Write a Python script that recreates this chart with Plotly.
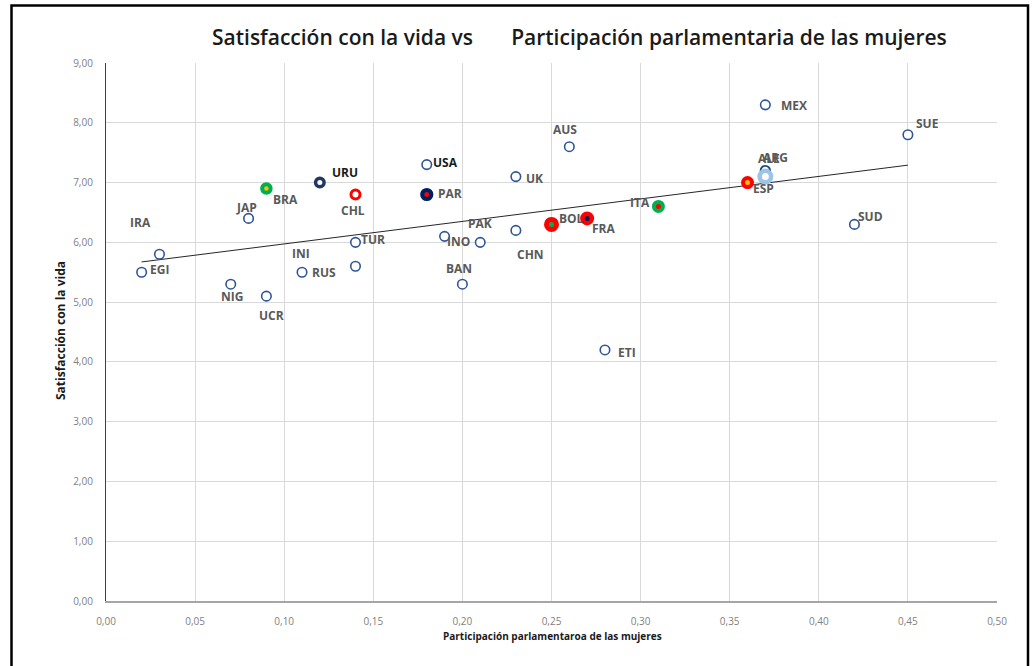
import numpy as np
import plotly.graph_objects as go

# ---------------- data ----------------
countries = ["EGI", "IRA", "NIG", "JAP", "BRA", "UCR", "RUS", "URU", "CHL", "TUR", "INI",
             "USA", "PAR", "INO", "BAN", "PAK", "CHN", "UK", "BOL", "AUS", "FRA", "ETI",
             "ITA", "ESP", "ALE", "ARG", "MEX", "SUD", "SUE"]
participacion = [0.02, 0.03, 0.07, 0.08, 0.09, 0.09, 0.11, 0.12, 0.14, 0.14, 0.14,
                 0.18, 0.18, 0.19, 0.20, 0.21, 0.23, 0.23, 0.25, 0.26, 0.27, 0.28,
                 0.31, 0.36, 0.37, 0.37, 0.37, 0.42, 0.45]
satisfaccion = [5.5, 5.8, 5.3, 6.4, 6.9, 5.1, 5.5, 7.0, 6.8, 6.0, 5.6,
                7.3, 6.8, 6.1, 5.3, 6.0, 6.2, 7.1, 6.3, 7.6, 6.4, 4.2,
                6.6, 7.0, 7.2, 7.1, 8.3, 6.3, 7.8]
x_ticks = [0.0, 0.05, 0.10, 0.15, 0.20, 0.25, 0.30, 0.35, 0.40, 0.45, 0.50]
y_ticks = [0, 1, 2, 3, 4, 5, 6, 7, 8, 9]

# ---------------- styles ----------------
BLUE = "#2F5597"
NAVY = "#002060"
RED = "#FF0000"
GREEN = "#00B050"
YELLOW = "#FFC000"
LBLUE = "#9DC3E6"

# style: (fill colour, ring colour, size, ring width)
styles = {
    "plain": ("white", BLUE, 9.5, 1.6),
    "uru": ("white", "#1F3864", 8.5, 3.5),
    "chl": ("white", RED, 9, 3),
    "bra": (YELLOW, GREEN, 8.5, 4),
    "par": (RED, NAVY, 9, 4.2),
    "bol": (GREEN, RED, 10, 5),
    "fra": (NAVY, RED, 9.5, 4.5),
    "ita": (RED, GREEN, 9, 4),
    "esp": (YELLOW, RED, 9, 4),
    "ale": ("white", "#1F4E79", 9.5, 1.8),
    "arg": ("white", LBLUE, 11.5, 4.5),
}
special = {"URU": "uru", "CHL": "chl", "BRA": "bra", "PAR": "par", "BOL": "bol",
           "FRA": "fra", "ITA": "ita", "ESP": "esp", "ALE": "ale", "ARG": "arg"}
draw_order = ["plain", "ale", "arg", "uru", "chl", "bra", "par", "bol", "fra", "ita", "esp"]

# label offsets in screen pixels (dx right, dy down)
label_offset = {
    "EGI": (18, -3), "IRA": (-19, -32), "NIG": (1, 12), "JAP": (-2, -11), "BRA": (19, 11),
    "UCR": (5, 19), "RUS": (22, 0), "URU": (25, -10), "CHL": (-2, 16), "TUR": (18, -3),
    "INI": (-54, -13), "USA": (19, -2), "PAR": (23, -1), "INO": (14, 5), "BAN": (-3, -16),
    "PAK": (0, -19), "CHN": (15, 24), "UK": (19, 2), "BOL": (20, -6), "AUS": (-4, -17),
    "FRA": (17, 10), "ETI": (22, 3), "ITA": (-18, -4), "ESP": (16, 6), "ALE": (4, -12),
    "ARG": (10, -19), "MEX": (29, 1), "SUD": (16, -8), "SUE": (20, -11),
}
dark_labels = {"USA", "URU"}

FONT = "Open Sans, Liberation Sans, DejaVu Sans, sans-serif"

fig = go.Figure()

# trend line (least squares fit of the data)
xs = np.array(participacion)
ys = np.array(satisfaccion)
slope, intercept = np.polyfit(xs, ys, 1)
tx = np.array([xs.min(), xs.max()])
fig.add_trace(go.Scatter(x=tx, y=slope * tx + intercept, mode="lines",
                         line=dict(color="#262626", width=1), hoverinfo="skip",
                         showlegend=False))

for st in draw_order:
    idx = [i for i, c in enumerate(countries) if special.get(c, "plain") == st]
    fill, ring, size, lw = styles[st]
    fig.add_trace(go.Scatter(
        x=[participacion[i] for i in idx],
        y=[satisfaccion[i] for i in idx],
        mode="markers",
        marker=dict(color=fill, size=size, line=dict(color=ring, width=lw)),
        text=[countries[i] for i in idx],
        showlegend=False,
    ))

for c, xv, yv in zip(countries, participacion, satisfaccion):
    dx, dy = label_offset[c]
    fig.add_annotation(x=xv, y=yv, text=c, showarrow=False, xshift=dx, yshift=-dy,
                       font=dict(family=FONT, size=12, weight=700,
                                 color="#1A1A1A" if c in dark_labels else "#595959"))

W, H = 1034, 666
L, R, T, B = 106, 37, 63, 65
pw, ph = W - L - R, H - T - B

def px(xp):
    return (xp - L) / pw

def py(yp):
    return (H - B - yp) / ph

# border around chart
fig.add_shape(type="rect", xref="paper", yref="paper",
              x0=px(11.5), x1=px(1028), y0=py(680), y1=py(5.5),
              line=dict(color="black", width=2.5), fillcolor="rgba(0,0,0,0)", layer="above")

# title
fig.add_annotation(xref="paper", yref="paper", x=px(579), y=py(37),
                   text="Satisfacción con la vida vs" + "&nbsp;" * 7 + "Participación parlamentaria de las mujeres",
                   showarrow=False, xanchor="center", yanchor="middle",
                   font=dict(family=FONT, size=21, weight=600, color="#1A1A1A"))
# axis titles
fig.add_annotation(xref="paper", yref="paper", x=px(552), y=py(636),
                   text="Participación parlamentaroa de las mujeres", showarrow=False,
                   xanchor="center", yanchor="middle",
                   font=dict(family=FONT, size=10, weight=700, color="#1A1A1A"))
fig.add_annotation(xref="paper", yref="paper", x=px(60), y=py(331),
                   text="Satisfacción con la vida", showarrow=False, textangle=-90,
                   xanchor="center", yanchor="middle",
                   font=dict(family=FONT, size=12, weight=700, color="#1A1A1A"))

fig.update_layout(
    width=W, height=H,
    margin=dict(l=L, r=R, t=T, b=B),
    paper_bgcolor="white", plot_bgcolor="white",
    separators=",.",
    showlegend=False,
    font=dict(family=FONT),
)
fig.update_xaxes(range=[0, 0.5], tickvals=x_ticks, tickformat=".2f",
                 showgrid=True, gridcolor="#D9D9D9", gridwidth=1,
                 zeroline=False, showline=True, linecolor="#A6A6A6", linewidth=1.5,
                 ticks="", ticklabelstandoff=10,
                 tickfont=dict(family=FONT, size=10, color="#7F7F7F"))
fig.update_yaxes(range=[0, 9], tickvals=y_ticks, tickformat=".2f",
                 showgrid=True, gridcolor="#D9D9D9", gridwidth=1,
                 zeroline=False, showline=True, linecolor="#404040", linewidth=1.2,
                 ticks="", ticklabelstandoff=10,
                 tickfont=dict(family=FONT, size=10, color="#7F7F7F"))

fig.write_html("out.html", config={"displayModeBar": False},
               post_script="document.body.style.margin='0';document.body.style.overflow='hidden';")
